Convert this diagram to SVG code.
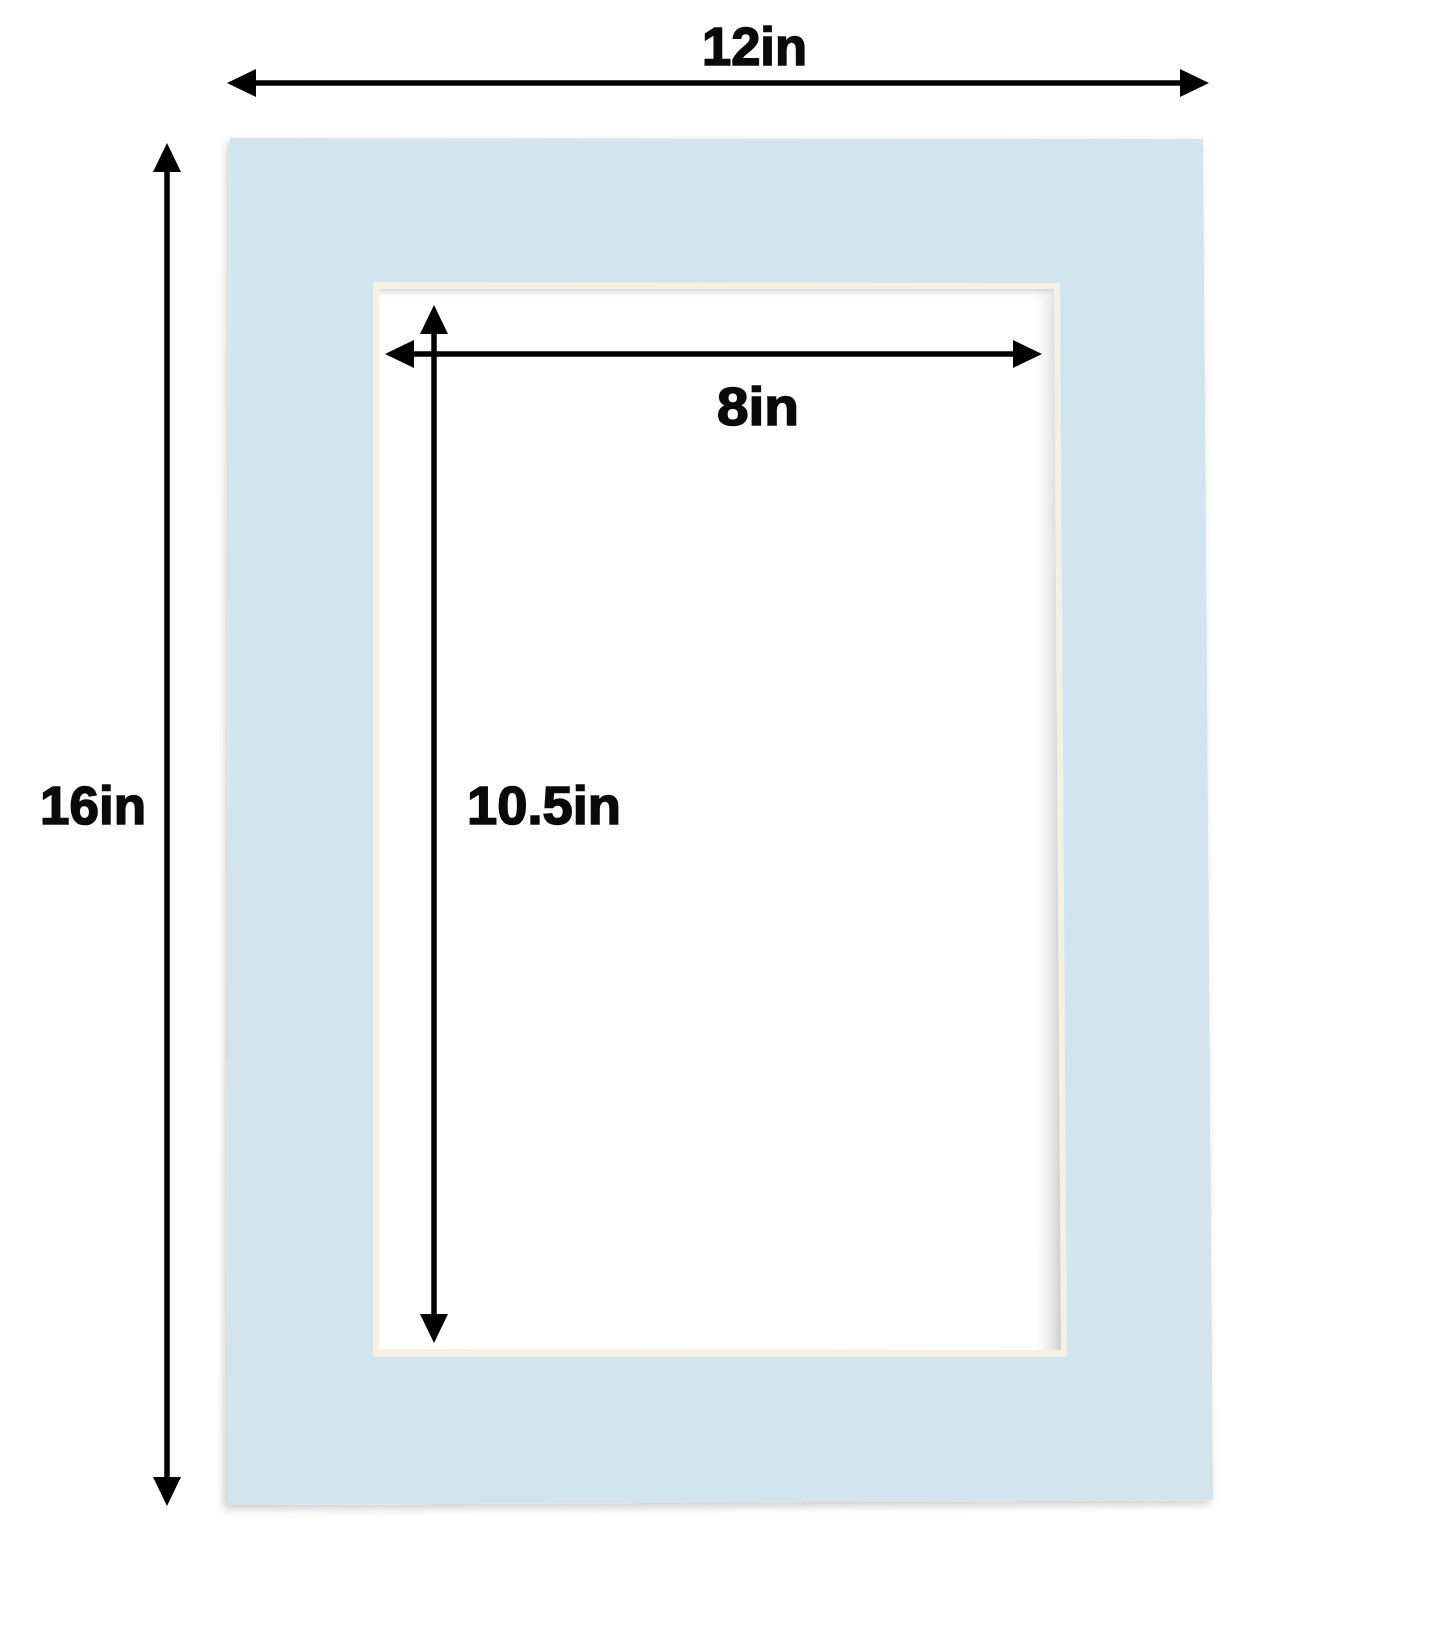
<svg xmlns="http://www.w3.org/2000/svg" width="1445" height="1645" viewBox="0 0 1445 1645">
  <style>
    .dim { stroke: #000; stroke-width: 5.5; fill: none; marker-start: url(#head); marker-end: url(#head); }
    .lbl { font-family: "Liberation Sans", Arial, sans-serif; font-weight: 700; font-size: 53px; fill: #0a0a0a; stroke: #0a0a0a; stroke-width: 1.6; }
  </style>
  <defs>
    <marker id="head" markerUnits="userSpaceOnUse" markerWidth="30" markerHeight="30" refX="0" refY="14" orient="auto-start-reverse" viewBox="0 0 30 30">
      <path d="M0,0 L29,14 L0,28 Z" fill="#000"/>
    </marker>
    <filter id="shadow" x="-5%" y="-5%" width="110%" height="110%">
      <feDropShadow dx="-3" dy="4" stdDeviation="4" flood-color="#000" flood-opacity="0.2"/>
    </filter>
    <linearGradient id="rightShade" x1="0" y1="0" x2="1" y2="0">
      <stop offset="0" stop-color="#fff" stop-opacity="0"/>
      <stop offset="1" stop-color="#c8c8cc" stop-opacity="0.9"/>
    </linearGradient>
    <linearGradient id="topShade" x1="0" y1="0" x2="0" y2="1">
      <stop offset="0" stop-color="#d0d0d4" stop-opacity="0.8"/>
      <stop offset="1" stop-color="#fff" stop-opacity="0"/>
    </linearGradient>
  </defs>
  <rect width="1445" height="1645" fill="#fff"/>

  <g id="mat">
    <polygon points="230,138 1203,139 1213,1500 227,1505" fill="#d4e4ee" filter="url(#shadow)"/>
    <polygon points="373,282 1060,283 1067,1357 373,1357" fill="#f4f0e2"/>
    <polygon points="379,289 1054,289 1061,1350 379,1349" fill="#ffffff"/>
    <polygon points="1030,289 1054,289 1061,1350 1037,1350" fill="url(#rightShade)"/>
    <polygon points="379,289 1054,289 1054,300 379,300" fill="url(#topShade)"/>
  </g>

  <g id="connectors">
    <line class="dim" x1="256" y1="83" x2="1180" y2="83"/>
    <line class="dim" x1="167" y1="172" x2="167" y2="1477"/>
    <line class="dim" x1="434" y1="334" x2="434" y2="1314"/>
    <line class="dim" x1="414" y1="354" x2="1013" y2="354"/>
  </g>

  <g id="label-12in"><text class="lbl" x="702" y="65" textLength="105" lengthAdjust="spacingAndGlyphs">12in</text></g>
  <g id="label-16in"><text class="lbl" x="40" y="824" textLength="106" lengthAdjust="spacingAndGlyphs">16in</text></g>
  <g id="label-10-5in"><text class="lbl" x="467" y="824" textLength="154" lengthAdjust="spacingAndGlyphs">10.5in</text></g>
  <g id="label-8in"><text class="lbl" x="717" y="425" font-size="48" textLength="82" lengthAdjust="spacingAndGlyphs">8in</text></g>
</svg>
